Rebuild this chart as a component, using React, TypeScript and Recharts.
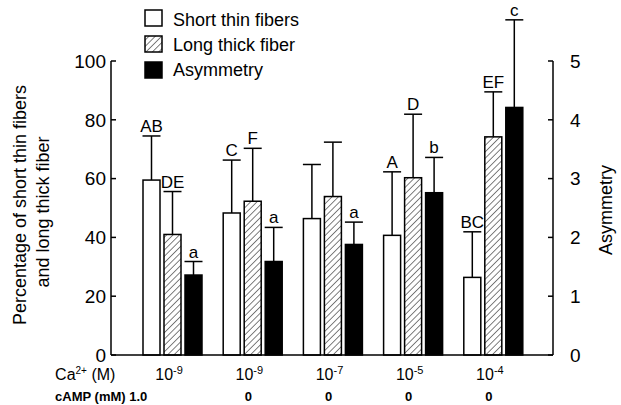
import { Bar, BarChart, XAxis, YAxis } from 'recharts';

const FONT = '"Liberation Sans", Arial, sans-serif';
const INK = '#000';

// categories: Ca2+ exponent and cAMP concentration for each group
const GROUPS = ['g1', 'g2', 'g3', 'g4', 'g5'];
const CA_EXP = ['-9', '-9', '-7', '-5', '-4'];
const CAMP = ['1.0', '0', '0', '0', '0'];

const SHORT_THIN = [59.5, 48.3, 46.4, 40.7, 26.4];
const SHORT_THIN_SD = [15, 18, 18.4, 21.6, 15.5];
const SHORT_THIN_SIG = ['AB', 'C', '', 'A', 'BC'];

const LONG_THICK = [41, 52.3, 53.9, 60.3, 74.2];
const LONG_THICK_SD = [14.6, 18, 18.5, 21.6, 15.3];
const LONG_THICK_SIG = ['DE', 'F', '', 'D', 'EF'];

const ASYMMETRY = [1.36, 1.59, 1.88, 2.76, 4.21];
const ASYMMETRY_SD = [0.23, 0.58, 0.38, 0.6, 1.49];
const ASYMMETRY_SIG = ['a', 'a', 'a', 'b', 'c'];

const LEFT_TICKS = [0, 20, 40, 60, 80, 100];
const RIGHT_TICKS = [0, 1, 2, 3, 4, 5];

const data = GROUPS.map((g, i) => ({
  group: g,
  shortThin: SHORT_THIN[i],
  longThick: LONG_THICK[i],
  asymmetry: ASYMMETRY[i],
}));

function makeBarShape(fill: string, values: number[], sd: number[], sig: string[]) {
  return (props: any) => {
    const { x, y, width, height, index } = props;
    const cx = x + width / 2;
    const errTop = y - (height * sd[index]) / values[index];
    return (
      <g>
        <line x1={cx} y1={y} x2={cx} y2={errTop} stroke={INK} strokeWidth={1.5} />
        <line x1={cx - 9} y1={errTop} x2={cx + 9} y2={errTop} stroke={INK} strokeWidth={1.5} />
        <rect x={x} y={y} width={width} height={height} fill={fill} stroke={INK} strokeWidth={1.5} />
        {sig[index] && (
          <text x={cx} y={errTop - 4} textAnchor="middle" fontSize={17} fontFamily={FONT} fill={INK}>
            {sig[index]}
          </text>
        )}
      </g>
    );
  };
}

const LeftTick = ({ x, y, payload }: any) => (
  <g>
    <line x1={x} y1={y} x2={x + 5} y2={y} stroke={INK} strokeWidth={1.5} />
    <text x={x - 5} y={y} dy="0.36em" textAnchor="end" fontSize={19} fontFamily={FONT} fill={INK}>
      {payload.value}
    </text>
  </g>
);

const RightTick = ({ x, y, payload }: any) => (
  <g>
    <line x1={x - 5} y1={y} x2={x} y2={y} stroke={INK} strokeWidth={1.5} />
    <text x={x + 17} y={y} dy="0.36em" textAnchor="start" fontSize={19} fontFamily={FONT} fill={INK}>
      {payload.value}
    </text>
  </g>
);

const CategoryTick = ({ x, y, index }: any) => (
  <g fontFamily={FONT} fill={INK}>
    <text x={x - 3} y={y + 25} textAnchor="middle" fontSize={16}>
      10
      <tspan dy={-6} fontSize={11}>
        {CA_EXP[index]}
      </tspan>
    </text>
    {index === 0 ? (
      <>
        <text x={x - 117} y={y + 25} textAnchor="start" fontSize={16}>
          Ca
          <tspan dy={-6} fontSize={10}>
            2+
          </tspan>
          <tspan dy={6}> (M)</tspan>
        </text>
        <text x={x - 117} y={y + 46} textAnchor="start" fontSize={13} fontWeight="bold">
          {'cAMP (mM) ' + CAMP[index]}
        </text>
      </>
    ) : (
      <text x={x - 4} y={y + 46} textAnchor="middle" fontSize={13} fontWeight="bold">
        {CAMP[index]}
      </text>
    )}
  </g>
);

const LEGEND = [
  { label: 'Short thin fibers', fill: '#fff' },
  { label: 'Long thick fiber', fill: 'url(#hatch)' },
  { label: 'Asymmetry', fill: INK },
];

export default function App() {
  return (
    <div style={{ position: 'absolute', left: 0, top: 0, width: 621, height: 405, background: '#fff' }}>
      <BarChart
        width={621}
        height={405}
        data={data}
        margin={{ top: 61, right: 0, bottom: 0, left: 0 }}
        barSize={17}
        barGap={4}
      >
        <defs>
          <pattern id="hatch" width={4.5} height={4.5} patternUnits="userSpaceOnUse" patternTransform="rotate(45)">
            <rect width={4.5} height={4.5} fill="#fff" />
            <line x1={0} y1={0} x2={0} y2={4.5} stroke={INK} strokeWidth={1} />
          </pattern>
        </defs>
        <XAxis
          dataKey="group"
          height={50}
          padding={{ left: 21, right: 20 }}
          axisLine={{ stroke: INK, strokeWidth: 1.5 }}
          tickLine={false}
          tickSize={0}
          tickMargin={0}
          tick={<CategoryTick />}
          interval={0}
        />
        <YAxis
          yAxisId="left"
          width={111}
          domain={[0, 100]}
          ticks={LEFT_TICKS}
          axisLine={{ stroke: INK, strokeWidth: 1.5 }}
          tickLine={false}
          tickSize={0}
          tickMargin={0}
          tick={<LeftTick />}
        />
        <YAxis
          yAxisId="right"
          orientation="right"
          width={68}
          domain={[0, 5]}
          ticks={RIGHT_TICKS}
          axisLine={{ stroke: INK, strokeWidth: 1.5 }}
          tickLine={false}
          tickSize={0}
          tickMargin={0}
          tick={<RightTick />}
        />
        <Bar
          yAxisId="left"
          dataKey="shortThin"
          isAnimationActive={false}
          shape={makeBarShape('#fff', SHORT_THIN, SHORT_THIN_SD, SHORT_THIN_SIG)}
        />
        <Bar
          yAxisId="left"
          dataKey="longThick"
          isAnimationActive={false}
          shape={makeBarShape('url(#hatch)', LONG_THICK, LONG_THICK_SD, LONG_THICK_SIG)}
        />
        <Bar
          yAxisId="right"
          dataKey="asymmetry"
          isAnimationActive={false}
          shape={makeBarShape(INK, ASYMMETRY, ASYMMETRY_SD, ASYMMETRY_SIG)}
        />
        <g fontFamily={FONT} fontSize={18} fill={INK}>
          {LEGEND.map((item, i) => (
            <g key={item.label}>
              <rect x={145} y={10 + i * 26} width={17} height={16} fill={item.fill} stroke={INK} strokeWidth={1.5} />
              <text x={173} y={26 + i * 25}>
                {item.label}
              </text>
            </g>
          ))}
          <text transform="rotate(-90 20 205)" x={20} y={205} textAnchor="middle" dy="0.36em">
            Percentage of short thin fibers
          </text>
          <text transform="rotate(-90 43 212)" x={43} y={212} textAnchor="middle" dy="0.36em">
            and long thick fiber
          </text>
          <text transform="rotate(-90 606 210)" x={606} y={210} textAnchor="middle" dy="0.36em">
            Asymmetry
          </text>
        </g>
      </BarChart>
    </div>
  );
}
